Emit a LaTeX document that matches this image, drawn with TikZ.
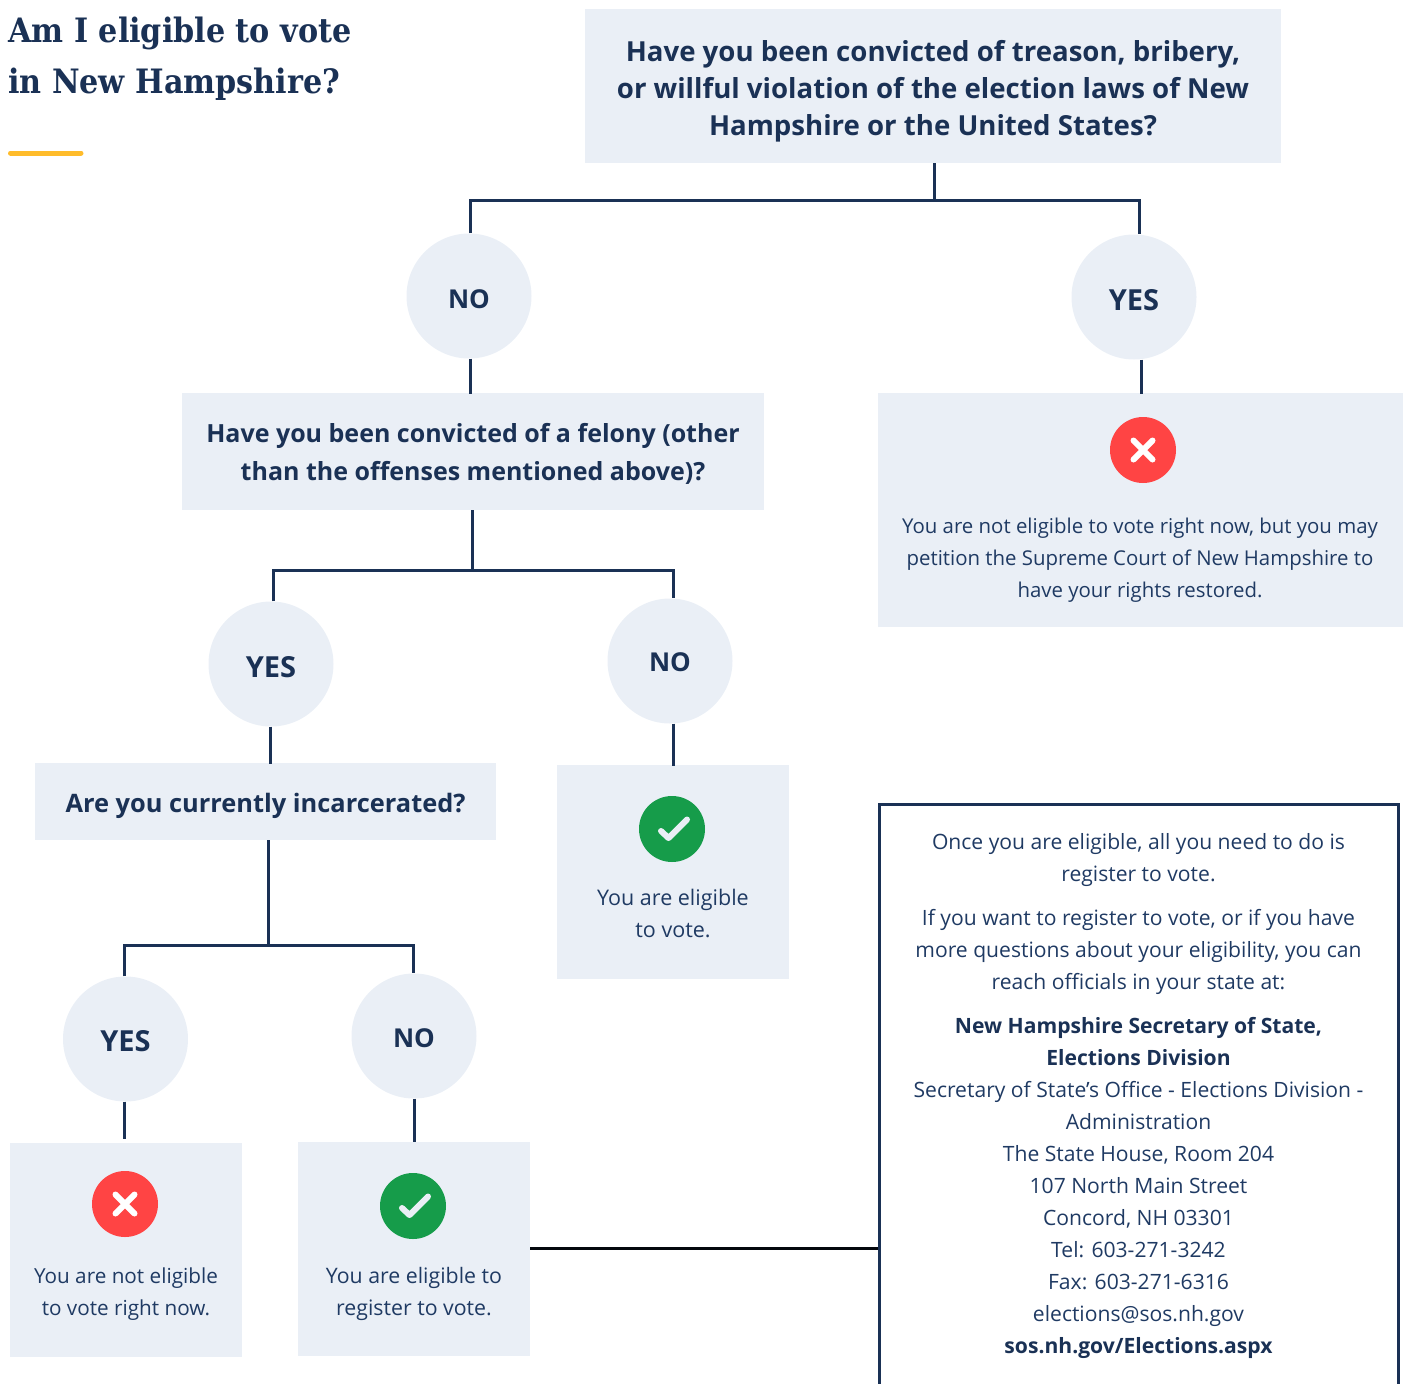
\documentclass[tikz,border=0pt]{standalone}
\usepackage{fontspec}
\usepackage{xcolor}
\usetikzlibrary{calc}
\setmainfont{Open Sans}
\newfontfamily\titlefont{DejaVu Serif Condensed}
\definecolor{navy}{HTML}{1A3155}
\definecolor{txt}{HTML}{1F3A63}
\definecolor{pale}{HTML}{EAEFF6}
\definecolor{gold}{HTML}{FFBC2B}
\definecolor{crossred}{HTML}{FF4444}
\definecolor{okgreen}{HTML}{169C4A}
\newcommand{\lift}[1]{\rule{0pt}{#1pt}}
\newcommand{\fsz}[2]{\fontsize{#1}{#2}\selectfont}
\tikzset{
  conn/.style={draw=navy,line width=3pt},
  tie/.style={draw=black!85!navy,line width=3pt},
  question/.style={fill=pale,align=center,text=navy,inner sep=0pt,font=\fsz{27.6}{37}\bfseries},
  result/.style={fill=pale,inner sep=0pt},
  answer/.style={circle,fill=pale,minimum size=125pt,inner sep=0pt,text=navy},
  noanswer/.style={answer,font=\fsz{26}{32}\bfseries},
  yesanswer/.style={answer,font=\fsz{29}{32}\bfseries},
  body/.style={align=center,text=txt,inner sep=0pt,font=\fsz{21.3}{32}},
  badred/.style={circle,fill=crossred,minimum size=66pt,inner sep=0pt},
  goodgreen/.style={circle,fill=okgreen,minimum size=66pt,inner sep=0pt},
  glyph/.style={line width=6pt,line cap=round,line join=round},
}
\newcommand{\crossmark}[1]{\draw[glyph,white] ($(#1)+(-9.5,-9.5)$) -- ($(#1)+(9.5,9.5)$) ($(#1)+(-9.5,9.5)$) -- ($(#1)+(9.5,-9.5)$);}
\newcommand{\tickmark}[1]{\draw[glyph,pale] ($(#1)+(-11,2)$) -- ($(#1)+(-3.5,9)$) -- ($(#1)+(15,-9.5)$);}
\begin{document}
\begin{tikzpicture}[x=1pt,y=-1pt]
\clip (0,0) rectangle (1406,1384);
% title
\node[anchor=west,inner sep=0pt,text=navy,font=\fsz{33.6}{51}\titlefont\bfseries,align=left] (title) at (8,59) {Am I eligible to vote\\in New Hampshire?};
\coordinate (ruleL) at (10.5,153);
\coordinate (ruleR) at (81,153);
\draw[gold,line width=5pt,line cap=round] (ruleL) -- (ruleR);
% questions
\node[question,minimum width=696pt,minimum height=154pt] (q1) at (933,86) {\lift{31}Have you been convicted of treason, bribery,\\or willful violation of the election laws of New\\Hampshire or the United States?};
\node[question,minimum width=582pt,minimum height=117pt,font=\fsz{25}{38}\bfseries] (q2) at (473,451.5) {\lift{23}Have you been convicted of a felony (other\\than the offenses mentioned above)?};
\node[question,minimum width=461pt,minimum height=77pt,font=\fsz{25.4}{38}\bfseries] (q3) at (265.5,801.5) {\lift{29}Are you currently incarcerated?};
% answers
\node[noanswer] (no1) at (469,296) {\lift{25}NO};
\node[yesanswer] (yes1) at (1134,297) {\lift{27}YES};
\node[yesanswer] (yes2) at (271,664) {\lift{27}YES};
\node[noanswer] (no2) at (670,661) {\lift{21}NO};
\node[yesanswer] (yes3) at (125.5,1039) {\lift{25}YES};
\node[noanswer] (no3) at (414,1036) {\lift{23}NO};
% results
\node[result,minimum width=525pt,minimum height=234pt] (r1) at (1140.5,510) {};
\node[badred] (i1) at (1143,450) {};
\crossmark{i1}
\node[body,font=\fsz{20.4}{32}] (t1) at (1140,560) {You are not eligible to vote right now, but you may\\petition the Supreme Court of New Hampshire to\\have your rights restored.};
\node[result,minimum width=232pt,minimum height=214pt] (r2) at (673,872) {};
\node[goodgreen] (i2) at (672,829) {};
\tickmark{i2}
\node[body,font=\fsz{21.5}{32}] (t2) at (673,913) {You are eligible\\to vote.};
\node[result,minimum width=232pt,minimum height=214pt] (r3) at (126,1250) {};
\node[badred] (i3) at (125,1204) {};
\crossmark{i3}
\node[body,font=\fsz{20.7}{32}] (t3) at (126,1294) {You are not eligible\\to vote right now.};
\node[result,minimum width=232pt,minimum height=214pt] (r4) at (414,1249) {};
\node[goodgreen] (i4) at (413,1206) {};
\tickmark{i4}
\node[body] (t4) at (414,1294) {You are eligible to\\register to vote.};
% info box
\node[body,draw=navy,line width=3pt,anchor=north,minimum width=519pt,inner ysep=22pt,font=\fsz{21.1}{32}] (info) at (1138.5,803) {\lift{23}Once you are eligible, all you need to do is\\register to vote.\\[12pt]
If you want to register to vote, or if you have\\more questions about your eligibility, you can\\reach officials in your state at:\\[12pt]
\textbf{\color{navy}New Hampshire Secretary of State,}\\\textbf{\color{navy}Elections Division}\\
Secretary of State’s Office - Elections Division -\\Administration\\The State House, Room 204\\107 North Main Street\\Concord, NH 03301\\Tel: 603-271-3242\\Fax: 603-271-6316\\elections@sos.nh.gov\\\textbf{\color{navy}sos.nh.gov/Elections.aspx}\\[60pt]\mbox{}};
% connectors
\coordinate (j1) at (934,200);
\coordinate (j2) at (472.5,570);
\coordinate (j3) at (268,945);
\coordinate (tieR) at ($(r4.east)+(0,-1)$);
\draw[conn] ($(q1.south)+(1,0)$) -- (j1);
\draw[conn] ($(no1.north)+(1,0)$) |- (j1) -| ($(yes1.north)+(5,0)$);
\draw[conn] ($(no1.south)+(1,0)$) -- ($(no1.south)+(1,35)$);
\draw[conn] ($(yes1.south)+(7,0)$) -- ($(yes1.south)+(7,34)$);
\draw[conn] (q2.south -| j2) -- (j2);
\draw[conn] ($(yes2.north)+(2,0)$) |- (j2) -| ($(no2.north)+(3,0)$);
\draw[conn] ($(yes2.south)+(-1,0)$) -- ($(yes2.south)+(-1,37)$);
\draw[conn] ($(no2.south)+(3,0)$) -- ($(no2.south)+(3,42)$);
\draw[conn] (q3.south -| j3) -- (j3);
\draw[conn] ($(yes3.north)+(-1,0)$) |- (j3) -| ($(no3.north)+(-1,0)$);
\draw[conn] ($(yes3.south)+(-1,0)$) -- ($(yes3.south)+(-1,37)$);
\draw[conn] (no3.south) -- (r4.north);
\draw[tie] (tieR) -- (tieR -| info.west);
\end{tikzpicture}
\end{document}
